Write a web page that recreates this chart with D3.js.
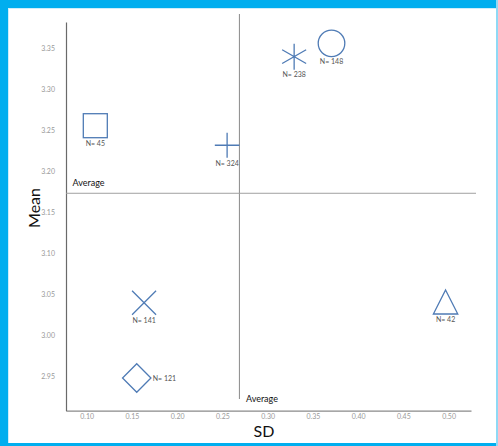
<!DOCTYPE html>
<html><head><meta charset="utf-8">
<script src="https://cdn.jsdelivr.net/npm/d3@7"></script>
<style>html,body{margin:0;padding:0;background:#fff;}svg{display:block;}</style>
</head><body>
<script>
// ---- data ----
const groups = ["N= 45", "N= 324", "N= 238", "N= 148", "N= 141", "N= 121", "N= 42"];
const sdValues = [0.1095, 0.2552, 0.3293, 0.3706, 0.1634, 0.1553, 0.4967];
const meanValues = [3.2557, 3.2319, 3.3398, 3.356, 3.0401, 2.9484, 3.041];
const markerTypes = ["square", "plus", "asterisk", "circle", "cross", "diamond", "triangle"];
const xTicks = [0.10, 0.15, 0.20, 0.25, 0.30, 0.35, 0.40, 0.45, 0.50];
const yTicks = [2.95, 3.00, 3.05, 3.10, 3.15, 3.20, 3.25, 3.30, 3.35];
const averageSD = 0.2688;
const averageMean = 3.1734;

(function () {
const W = 498, H = 446;
const svg = d3.select("body").append("svg").attr("width", W).attr("height", H);

// frame
svg.append("rect").attr("x", 0).attr("y", 0).attr("width", W).attr("height", H).attr("fill", "#fff");
const blue = "#00AEEF";
svg.append("rect").attr("x", 0).attr("y", 0).attr("width", W).attr("height", 8).attr("fill", blue);
svg.append("rect").attr("x", 0).attr("y", 0).attr("width", 8).attr("height", H).attr("fill", blue);
svg.append("rect").attr("x", 0).attr("y", 443).attr("width", W).attr("height", 3).attr("fill", blue);
svg.append("rect").attr("x", 496).attr("y", 0).attr("width", 2).attr("height", H).attr("fill", "#8fd9f5");
svg.append("rect").attr("x", 8).attr("y", 8).attr("width", 488).attr("height", 1).attr("fill", "#cdeefb");
svg.append("rect").attr("x", 8).attr("y", 8).attr("width", 1).attr("height", 435).attr("fill", "#cdeefb");

const pl = 66, pr = 471, pt = 22, pb = 410.7;
const x = d3.scaleLinear().domain([0.0771, 0.5248]).range([pl, pr]);
const y = d3.scaleLinear().domain([2.9086, 3.382]).range([pb, pt]);

const font = "Lato, 'Open Sans', sans-serif";

// axes
const xAxis = svg.append("g").attr("transform", `translate(0,${pb})`)
  .call(d3.axisBottom(x).tickValues(xTicks).tickFormat(d3.format(".2f")).tickSize(0).tickPadding(3));
xAxis.select(".domain").attr("stroke", "#8a8a8a").attr("stroke-width", 1.2);
xAxis.selectAll("text").attr("fill", "#9a9a9a").attr("font-size", 7).attr("font-family", font);

const yAxis = svg.append("g").attr("transform", `translate(${pl},0)`)
  .call(d3.axisLeft(y).tickValues(yTicks).tickFormat(d3.format(".2f")).tickSize(0).tickPadding(11));
yAxis.select(".domain").attr("stroke", "#6a6a6a").attr("stroke-width", 1.2);
yAxis.selectAll("text").attr("fill", "#9a9a9a").attr("font-size", 7).attr("font-family", font);

// average lines
svg.append("line").attr("x1", x(averageSD)).attr("x2", x(averageSD))
  .attr("y1", 14).attr("y2", 399).attr("stroke", "#8a8a8a").attr("stroke-width", 1);
svg.append("line").attr("x1", pl).attr("x2", 476)
  .attr("y1", y(averageMean)).attr("y2", y(averageMean)).attr("stroke", "#a0a0a0").attr("stroke-width", 1);

svg.append("text").attr("x", 72.5).attr("y", y(averageMean) - 7).text("Average")
  .attr("font-size", 9).attr("font-family", font).attr("fill", "#111");
svg.append("text").attr("x", x(averageSD) + 6.5).attr("y", 401.5).text("Average")
  .attr("font-size", 9).attr("font-family", font).attr("fill", "#111");

// axis titles
svg.append("text").attr("transform", "translate(40,208) rotate(-90)").attr("text-anchor", "middle")
  .text("Mean").attr("font-size", 16).attr("font-family", font).attr("fill", "#111");
svg.append("text").attr("x", 264).attr("y", 437).attr("text-anchor", "middle")
  .text("SD").attr("font-size", 16).attr("font-family", font).attr("fill", "#111");

// markers
const mc = "#4f7bb5";
function marker(g, type) {
  const s = 12;
  if (type === "square") g.append("rect").attr("x", -s).attr("y", -s).attr("width", 2 * s).attr("height", 2 * s);
  else if (type === "circle") g.append("circle").attr("r", 13.3);
  else if (type === "plus") g.append("path").attr("d", `M${-12.3},0H12.3M0,${-12.5}V12.5`);
  else if (type === "cross") g.append("path").attr("d", `M-12,-12L12,12M-12,12L12,-12`);
  else if (type === "asterisk") {
    const a = 13, dx = 12, dy = 6.9;
    g.append("path").attr("d", `M0,${-a}V${a}M${-dx},${-dy}L${dx},${dy}M${-dx},${dy}L${dx},${-dy}`);
  }
  else if (type === "diamond") g.append("path").attr("d", "M0,-14.3L14.2,0L0,14.3L-14.2,0Z");
  else if (type === "triangle") g.append("path").attr("d", "M0,-12L12.2,12L-12.2,12Z");
}
const pts = svg.append("g");
groups.forEach((name, i) => {
  const g = pts.append("g").attr("transform", `translate(${x(sdValues[i])},${y(meanValues[i])})`);
  marker(g, markerTypes[i]);
  g.selectAll("*").attr("fill", "none").attr("stroke", mc).attr("stroke-width", 1.3);
  const t = g.append("text").text(name).attr("font-size", 7).attr("font-family", font).attr("fill", "#555");
  if (markerTypes[i] === "diamond") t.attr("x", 16).attr("y", 2.5);
  else t.attr("text-anchor", "middle").attr("y", 20.5);
});
})();
</script>
</body></html>
